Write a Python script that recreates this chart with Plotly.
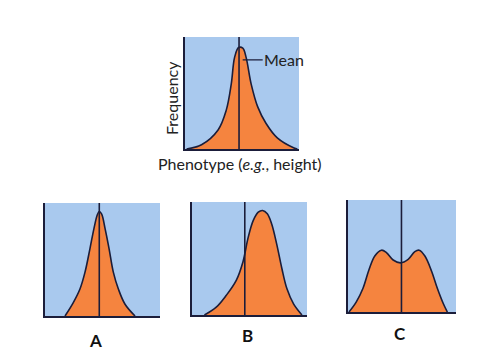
import plotly.graph_objects as go

# ---- data (units 0-100 inside each panel) ----
top_x = [1.4, 14.5, 29, 36.2, 40.6, 43.5, 47, 50.7, 53.6, 58, 63.8, 71, 81.2, 95.7, 98.6]
top_y = [0, 3.8, 17, 34.7, 58.2, 81.8, 90.6, 90, 81.8, 58.2, 37.6, 23, 9.7, 0.9, 0]
top_mean = 47.4

a_x = [17.4, 24.6, 30.4, 34.8, 39.1, 42.6, 45.5, 47.2, 49.3, 52.2, 55.7, 59.4, 63.8, 69.6, 78.3]
a_y = [0, 11.9, 23.9, 38.8, 59.7, 77.6, 89.6, 92.5, 90.1, 77.6, 59.7, 38.8, 23.9, 10.4, 0]
a_mean = 47.2

b_x = [10.8, 21.1, 29.8, 38.6, 44.4, 48.8, 53.2, 57.6, 61.4, 65.5, 69.3, 73.7, 78.1, 82.5, 88.3, 95.6]
b_y = [0, 6.9, 17.4, 30.9, 47.4, 68.5, 83.5, 91, 92.5, 89.5, 80.5, 62.5, 41.4, 23.4, 9.9, 0]
b_mean = 45.9

c_x = [0.9, 7.7, 13.9, 19.5, 24.8, 31, 35.6, 41.8, 48.6, 55.7, 61.9, 65.9, 71.2, 77.4, 82.7, 88.2, 92]
c_y = [0, 9.1, 21.2, 37.9, 50, 55.2, 53, 46.4, 43.9, 47, 53.9, 55.2, 50, 36.4, 21.2, 7.6, 0]
c_mean = 49.5

panel_labels = ["A", "B", "C"]
x_title = "Phenotype (<i>e.g.</i>, height)"
y_title = "Frequency"
mean_label = "Mean"

# ---- style ----
W, H = 490, 353
BLUE = "#a9c9ee"
ORANGE = "#f5843f"
DARK = "#1b1d3a"
FONT = "Lato, Open Sans, sans-serif"

# panel boxes in pixels: (left, right, top, bottom)
boxes = [(185, 299, 37, 149), (45, 160, 203, 316), (192, 307, 202, 315), (348, 456, 200, 312)]
curves = [(top_x, top_y, top_mean), (a_x, a_y, a_mean), (b_x, b_y, b_mean), (c_x, c_y, c_mean)]

fig = go.Figure()
layout = dict(width=W, height=H, margin=dict(l=0, r=0, t=0, b=0),
              paper_bgcolor="white", plot_bgcolor="white", showlegend=False)

shapes = []
for i, ((l, r, t, b), (xs, ys, m)) in enumerate(zip(boxes, curves)):
    n = "" if i == 0 else str(i + 1)
    xa, ya = "x" + n, "y" + n
    layout["xaxis" + n] = dict(domain=[l / W, r / W], range=[0, 100], showgrid=False, zeroline=False,
                               showticklabels=False, ticks="", showline=True, linecolor=DARK,
                               linewidth=2, anchor=ya, fixedrange=True)
    layout["yaxis" + n] = dict(domain=[1 - b / H, 1 - t / H], range=[0, 100], showgrid=False, zeroline=False,
                               showticklabels=False, ticks="", showline=True, linecolor=DARK,
                               linewidth=2, anchor=xa, fixedrange=True)
    shapes.append(dict(type="rect", xref=xa + " domain", yref=ya + " domain", x0=0, x1=1, y0=0, y1=1,
                       fillcolor=BLUE, line=dict(width=0), layer="below"))
    fig.add_trace(go.Scatter(x=xs, y=ys, mode="lines", line=dict(color=DARK, width=1.6, shape="spline"),
                             fill="tozeroy", fillcolor=ORANGE, xaxis=xa, yaxis=ya, hoverinfo="skip"))
    fig.add_trace(go.Scatter(x=[m, m], y=[0, 100], mode="lines", line=dict(color=DARK, width=1.6),
                             xaxis=xa, yaxis=ya, hoverinfo="skip"))

layout["shapes"] = shapes
annotations = [
    dict(text=y_title, xref="paper", yref="paper", x=171 / W, y=1 - 98 / H, showarrow=False,
         textangle=-90, font=dict(family=FONT, size=16, color="#222"), xanchor="center", yanchor="middle"),
    dict(text=x_title, xref="paper", yref="paper", x=240 / W, y=1 - 163 / H, showarrow=False,
         font=dict(family=FONT, size=16, color="#222"), xanchor="center", yanchor="middle"),
    dict(text=mean_label, xref="x", yref="y", x=top_mean + 3.2, y=79.5, showarrow=True, arrowhead=0,
         arrowwidth=1.3, arrowcolor=DARK, ax=20, ay=0, xanchor="left", standoff=0,
         font=dict(family=FONT, size=16, color="#222"), borderpad=0),
]
label_pos = [(95, 340), (247, 335), (400, 333)]
for lab, (px, py) in zip(panel_labels, label_pos):
    annotations.append(dict(text="<b>" + lab + "</b>", xref="paper", yref="paper", x=px / W, y=1 - py / H,
                            showarrow=False, font=dict(family=FONT, size=17, color="#111"),
                            xanchor="center", yanchor="middle"))
layout["annotations"] = annotations
fig.update_layout(**layout)
fig.write_html("out.html")
